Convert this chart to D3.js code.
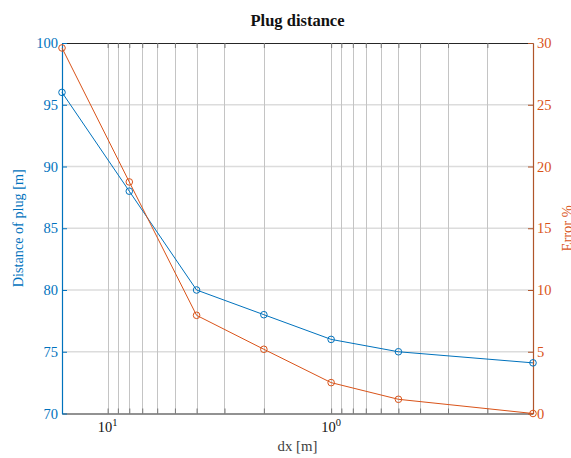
<!DOCTYPE html>
<html>
<head>
<meta charset="utf-8">
<script src="https://cdn.jsdelivr.net/npm/d3@7"></script>
<style>
  html, body { margin: 0; padding: 0; background: #fff; }
  svg { display: block; }
  text { font-family: "Liberation Serif", "DejaVu Serif", serif; }
</style>
</head>
<body>
<svg id="chart" width="571" height="458"></svg>
<script>
// ---- data ----
const dx = [16, 8, 4, 2, 1, 0.5, 0.125];
const plugDistance = [96, 88, 80, 78, 76, 75, 74.1];
const errorPct = [29.6, 18.75, 7.95, 5.2, 2.5, 1.15, 0];
const leftTicks = [70, 75, 80, 85, 90, 95, 100];
const rightTicks = [0, 5, 10, 15, 20, 25, 30];
const xMajorTicks = [10, 1];
const xMinorTicks = [9, 8, 7, 6, 5, 4, 3, 2, 0.9, 0.8, 0.7, 0.6, 0.5, 0.4, 0.3, 0.2];

const blue = "#0072BD", orange = "#D95319";
const pL = 62, pR = 533, pT = 43, pB = 413.5;
const serif = "Liberation Serif, DejaVu Serif, serif";

const svg = d3.select("#chart");
const x = d3.scaleLog().domain([16, 0.125]).range([pL, pR]);
const yL = d3.scaleLinear().domain([70, 100]).range([pB, pT]);
const yR = d3.scaleLinear().domain([0, 30]).range([pB, pT]);

// grid
const g = svg.append("g");
g.selectAll(".hg").data(leftTicks.slice(1, -1)).enter().append("line")
  .attr("x1", pL).attr("x2", pR)
  .attr("y1", d => yL(d)).attr("y2", d => yL(d))
  .attr("stroke", "#dcdcdc").attr("stroke-width", 1.3);
g.selectAll(".vg").data(xMajorTicks.concat(xMinorTicks)).enter().append("line")
  .attr("x1", d => Math.round(x(d)) + 0.5).attr("x2", d => Math.round(x(d)) + 0.5)
  .attr("y1", pT).attr("y2", pB)
  .attr("stroke", "#c4c4c4").attr("stroke-width", 1);

// x axes (bottom and top) with inward ticks
const xb = d3.axisBottom(x).tickValues(xMajorTicks.concat(xMinorTicks))
  .tickSizeInner(-5).tickSizeOuter(0).tickFormat("");
const xt = d3.axisTop(x).tickValues(xMajorTicks.concat(xMinorTicks))
  .tickSizeInner(-5).tickSizeOuter(0).tickFormat("");
const gxb = svg.append("g").attr("transform", `translate(0,${pB})`).call(xb);
const gxt = svg.append("g").attr("transform", `translate(0,${pT})`).call(xt);
[gxb, gxt].forEach(a => {
  a.select(".domain").attr("stroke", "#262626").attr("stroke-width", 1.2);
  a.selectAll(".tick line").attr("stroke", "#777");
});

// x tick labels (10^k)
const xl = svg.append("g");
xMajorTicks.forEach(v => {
  const t = xl.append("text").attr("x", x(v)).attr("y", 432)
    .attr("text-anchor", "middle").attr("fill", "#111").attr("font-size", 14.5)
    .attr("font-family", serif);
  t.append("tspan").text("10");
  t.append("tspan").attr("dy", -6).attr("font-size", 10.5).text(Math.round(Math.log10(v)));
});

// left axis
const ayl = d3.axisLeft(yL).tickValues(leftTicks).tickSizeInner(-5).tickSizeOuter(0).tickPadding(4);
const gyl = svg.append("g").attr("transform", `translate(${pL},0)`).call(ayl);
gyl.attr("font-family", serif);
gyl.select(".domain").attr("stroke", blue).attr("stroke-width", 1.2);
gyl.selectAll(".tick line").attr("stroke", blue);
gyl.selectAll(".tick text").attr("fill", blue).attr("font-size", 14.5);

// right axis
const ayr = d3.axisRight(yR).tickValues(rightTicks).tickSizeInner(-5).tickSizeOuter(0).tickPadding(4);
const gyr = svg.append("g").attr("transform", `translate(${pR},0)`).call(ayr);
gyr.attr("font-family", serif);
gyr.select(".domain").attr("stroke", "#b0552a").attr("stroke-width", 1.2);
gyr.selectAll(".tick line").attr("stroke", "#b0552a");
gyr.selectAll(".tick text").attr("fill", orange).attr("font-size", 14.5);

// series
const lineL = d3.line().x((d, i) => x(dx[i])).y(d => yL(d));
const lineR = d3.line().x((d, i) => x(dx[i])).y(d => yR(d));
svg.append("path").datum(plugDistance).attr("d", lineL)
  .attr("fill", "none").attr("stroke", blue).attr("stroke-width", 1);
svg.selectAll(".pb").data(plugDistance).enter().append("circle")
  .attr("cx", (d, i) => x(dx[i])).attr("cy", d => yL(d)).attr("r", 3.3)
  .attr("fill", "none").attr("stroke", blue).attr("stroke-width", 1);
svg.append("path").datum(errorPct).attr("d", lineR)
  .attr("fill", "none").attr("stroke", orange).attr("stroke-width", 1);
svg.selectAll(".pr").data(errorPct).enter().append("circle")
  .attr("cx", (d, i) => x(dx[i])).attr("cy", d => yR(d)).attr("r", 3.3)
  .attr("fill", "none").attr("stroke", orange).attr("stroke-width", 1);

// title and labels
svg.append("text").attr("x", (pL + pR) / 2).attr("y", 25.5).attr("text-anchor", "middle")
  .attr("font-weight", "bold").attr("font-size", 16.5).attr("fill", "#111").text("Plug distance");
svg.append("text").attr("x", (pL + pR) / 2).attr("y", 451).attr("text-anchor", "middle")
  .attr("font-size", 14.8).attr("fill", "#404040").text("dx [m]");
svg.append("text").attr("transform", `translate(23,${(pT + pB) / 2}) rotate(-90)`)
  .attr("text-anchor", "middle").attr("font-size", 14.2).attr("fill", blue).text("Distance of plug [m]");
svg.append("text").attr("transform", `translate(572,${(pT + pB) / 2}) rotate(-90)`)
  .attr("text-anchor", "middle").attr("font-size", 14.5).attr("fill", orange).text("Error %");
</script>
</body>
</html>
